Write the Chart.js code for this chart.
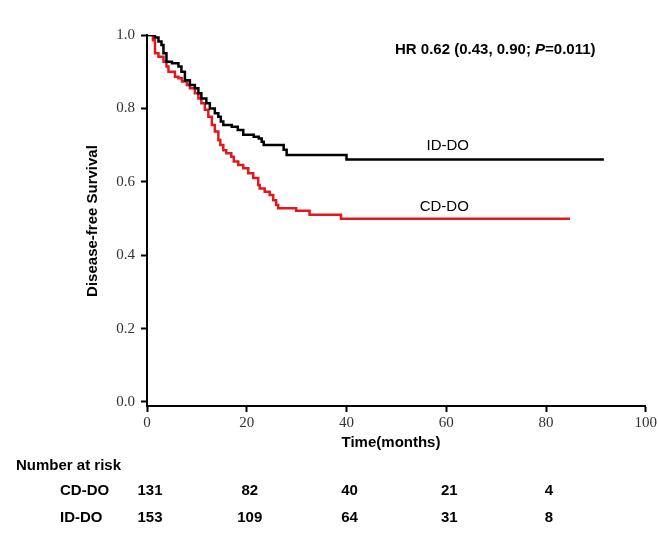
<!DOCTYPE html>
<html>
<head>
<meta charset="utf-8">
<script src="https://cdn.jsdelivr.net/npm/chart.js@4"></script>
<style>
  body { margin: 0; background: #fff; }
  #km { display: block; }
</style>
</head>
<body>
<canvas id="km" width="659" height="543"></canvas>
<script>
// ID-DO (black) step points: time in months, survival
const idTimes = [0, 1.6, 2.3, 2.9, 3.3, 3.9, 5.0, 6.3, 6.9, 7.6, 8.6, 9.6, 10.3, 10.9, 11.9, 12.6, 13.6, 14.3, 14.8, 15.3, 17.0, 18.2, 19.3, 21.4, 22.4, 23.0, 23.4, 27.4, 28.0, 40.0, 91.6];
const idSurv = [1.0, 0.993, 0.982, 0.973, 0.950, 0.927, 0.923, 0.914, 0.900, 0.877, 0.864, 0.855, 0.841, 0.827, 0.814, 0.800, 0.787, 0.777, 0.764, 0.755, 0.750, 0.741, 0.728, 0.723, 0.718, 0.709, 0.700, 0.687, 0.673, 0.661, 0.661];

// CD-DO (red)
const cdTimes = [0, 1.2, 1.6, 2.3, 3.3, 3.9, 4.3, 5.6, 6.3, 7.0, 8.0, 8.6, 9.6, 10.3, 10.9, 11.6, 12.3, 13.0, 13.6, 14.3, 14.7, 15.3, 15.9, 16.9, 17.4, 18.3, 19.3, 20.3, 21.3, 22.3, 22.6, 23.6, 24.6, 25.3, 25.9, 26.3, 29.9, 32.6, 38.9, 84.8];
const cdSurv = [1.0, 0.986, 0.950, 0.941, 0.927, 0.914, 0.900, 0.886, 0.882, 0.873, 0.864, 0.855, 0.841, 0.827, 0.814, 0.796, 0.777, 0.755, 0.737, 0.714, 0.700, 0.686, 0.678, 0.668, 0.655, 0.646, 0.637, 0.623, 0.610, 0.591, 0.582, 0.573, 0.564, 0.550, 0.537, 0.528, 0.521, 0.510, 0.499, 0.499];

// number at risk
const riskTimes = [0, 20, 40, 60, 80];
const cdRisk = [131, 82, 40, 21, 4];
const idRisk = [153, 109, 64, 31, 8];

const xTicks = [0, 20, 40, 60, 80, 100];
const yTicks = [0.0, 0.2, 0.4, 0.6, 0.8, 1.0];

function pts(ts, ss) {
  return ts.map((t, i) => ({ x: t, y: ss[i] }));
}

const SANS = '"Liberation Sans", Arial, sans-serif';
const SERIF = '"Liberation Serif", "Times New Roman", serif';

const annotations = {
  id: 'annotations',
  afterDraw(chart) {
    const ctx = chart.ctx;
    const xs = chart.scales.x;
    const ys = chart.scales.y;
    ctx.save();
    ctx.fillStyle = '#000';
    ctx.textBaseline = 'middle';

    // curve labels
    ctx.font = '15px ' + SANS;
    ctx.textAlign = 'center';
    ctx.fillText('ID-DO', xs.getPixelForValue(60.3), ys.getPixelForValue(0.698));
    ctx.fillText('CD-DO', xs.getPixelForValue(59.6), ys.getPixelForValue(0.532));

    // hazard ratio
    ctx.textAlign = 'left';
    let x = 395;
    const hy = 50;
    const parts = [
      ['bold 15px ' + SANS, 'HR 0.62 (0.43, 0.90; '],
      ['italic bold 15px ' + SANS, 'P'],
      ['bold 15px ' + SANS, '=0.011)']
    ];
    parts.forEach(p => {
      ctx.font = p[0];
      ctx.fillText(p[1], x, hy);
      x += ctx.measureText(p[1]).width;
    });

    // axis titles
    ctx.font = 'bold 15px ' + SANS;
    ctx.textAlign = 'center';
    ctx.fillText('Time(months)', 391, 443);
    ctx.save();
    ctx.translate(93, 221);
    ctx.rotate(-Math.PI / 2);
    ctx.fillText('Disease-free Survival', 0, 0);
    ctx.restore();

    // number at risk table
    ctx.textAlign = 'left';
    ctx.fillText('Number at risk', 16, 466);
    ctx.fillText('CD-DO', 60, 491);
    ctx.fillText('ID-DO', 60, 518);
    ctx.textAlign = 'center';
    riskTimes.forEach((t, i) => {
      const px = xs.getPixelForValue(t) + 3;
      ctx.fillText(String(cdRisk[i]), px, 491);
      ctx.fillText(String(idRisk[i]), px, 518);
    });
    ctx.restore();
  }
};

new Chart(document.getElementById('km'), {
  type: 'line',
  data: {
    datasets: [
      {
        label: 'ID-DO',
        data: pts(idTimes, idSurv),
        borderColor: '#000',
        borderWidth: 2.5,
        pointRadius: 0,
        stepped: true,
        fill: false
      },
      {
        label: 'CD-DO',
        data: pts(cdTimes, cdSurv),
        borderColor: 'rgb(226, 24, 28)',
        borderWidth: 2.5,
        pointRadius: 0,
        stepped: true,
        fill: false
      }
    ]
  },
  options: {
    responsive: false,
    animation: false,
    devicePixelRatio: 1,
    layout: { padding: { left: 0, right: 13, top: 35, bottom: 0 } },
    plugins: {
      legend: { display: false },
      tooltip: { enabled: false }
    },
    scales: {
      x: {
        type: 'linear',
        min: 0,
        max: 100,
        afterFit: s => { s.height = 137; },
        afterBuildTicks: s => { s.ticks = xTicks.map(v => ({ value: v })); },
        border: { display: true, color: '#000', width: 2 },
        grid: { drawOnChartArea: false, drawTicks: true, tickLength: 6, tickWidth: 2, tickColor: '#000' },
        ticks: {
          color: '#333',
          padding: 2,
          maxRotation: 0,
          font: { family: SERIF, size: 15 }
        }
      },
      y: {
        min: -0.011,
        max: 1.0,
        afterFit: s => { s.width = 147; },
        afterBuildTicks: s => { s.ticks = yTicks.map(v => ({ value: v })); },
        border: { display: true, color: '#000', width: 2 },
        grid: { drawOnChartArea: false, drawTicks: true, tickLength: 6, tickWidth: 2, tickColor: '#000' },
        ticks: {
          color: '#333',
          padding: 6,
          font: { family: SERIF, size: 15 },
          callback: v => v.toFixed(1)
        }
      }
    }
  },
  plugins: [annotations]
});
</script>
</body>
</html>
